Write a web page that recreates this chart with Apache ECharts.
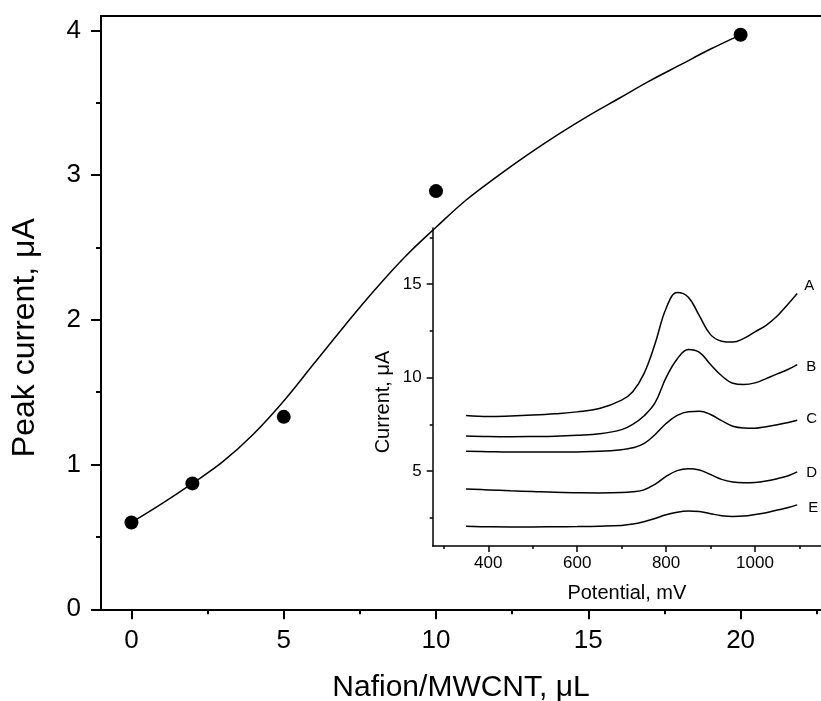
<!DOCTYPE html>
<html>
<head>
<meta charset="utf-8">
<script src="https://cdn.jsdelivr.net/npm/echarts@6/dist/echarts.min.js"></script>
<style>
html,body{margin:0;padding:0;background:#fff;}
#chart{width:821px;height:701px;}
</style>
</head>
<body>
<div id="chart"></div>
<script>
// Main panel: measured points
var pointX = [0, 2, 5, 10, 20];
var pointY = [0.60, 0.87, 1.33, 2.89, 3.97];
// Main panel: fitted curve
var fitX = [0, 1, 2, 3, 4, 5, 6, 7, 8, 9, 10, 11, 12, 13, 14, 15, 16, 17, 18, 19, 20];
var fitY = [0.60, 0.73, 0.87, 1.02, 1.21, 1.44, 1.70, 1.96, 2.21, 2.44, 2.64, 2.83, 2.99, 3.14, 3.28, 3.41, 3.53, 3.65, 3.76, 3.87, 3.97];
// Main axis ticks
var mainXMajor = [0, 5, 10, 15, 20];
var mainXMinor = [2.5, 7.5, 12.5, 17.5, 22.5];
var mainYMajor = [0, 1, 2, 3, 4];
var mainYMinor = [0.5, 1.5, 2.5, 3.5];

// Inset: voltammograms
var potential = [350, 400, 450, 500, 550, 600, 650, 700, 725, 750, 775, 800, 825, 850, 875, 900, 925, 950, 975, 1000, 1025, 1050, 1075, 1095];
var curveA = [7.98, 7.92, 7.95, 8.00, 8.07, 8.17, 8.35, 8.80, 9.25, 10.2, 11.8, 13.7, 14.55, 14.3, 13.3, 12.3, 11.95, 11.9, 12.1, 12.45, 12.8, 13.3, 13.95, 14.5];
var curveB = [6.88, 6.85, 6.84, 6.85, 6.87, 6.92, 7.00, 7.22, 7.50, 7.95, 8.65, 10.0, 11.0, 11.5, 11.35, 10.7, 10.1, 9.70, 9.63, 9.72, 9.95, 10.2, 10.45, 10.7];
var curveC = [6.07, 6.04, 6.02, 6.02, 6.02, 6.03, 6.06, 6.15, 6.25, 6.47, 6.95, 7.55, 7.98, 8.18, 8.20, 8.03, 7.70, 7.40, 7.31, 7.30, 7.38, 7.48, 7.60, 7.72];
var curveD = [4.05, 4.00, 3.95, 3.91, 3.87, 3.85, 3.84, 3.86, 3.90, 4.00, 4.30, 4.72, 5.03, 5.13, 5.06, 4.82, 4.56, 4.42, 4.38, 4.40, 4.48, 4.60, 4.76, 4.96];
var curveE = [2.05, 2.03, 2.02, 2.02, 2.03, 2.04, 2.06, 2.10, 2.17, 2.30, 2.47, 2.67, 2.81, 2.87, 2.85, 2.73, 2.62, 2.58, 2.60, 2.68, 2.78, 2.92, 3.06, 3.20];
var curveNames = ['A', 'B', 'C', 'D', 'E'];
// Inset axis ticks
var insetXMajor = [400, 600, 800, 1000];
var insetXMinor = [300, 500, 700, 900, 1100];
var insetYMajor = [5, 10, 15];
var insetYMinor = [2.5, 7.5, 12.5, 17.5];

function zip(xs, ys) { return xs.map(function (x, i) { return [x, ys[i]]; }); }

var FONT = '"Liberation Sans", Arial, sans-serif';
var BLACK = '#000';

function majorAxis(opts) {
  return {
    type: 'value',
    min: opts.min, max: opts.max,
    gridIndex: opts.grid,
    position: opts.position,
    axisLine: { show: true, onZero: false, lineStyle: { color: BLACK, width: opts.lw } },
    axisTick: { show: true, inside: false, length: opts.tickLen, customValues: opts.ticks, lineStyle: { color: BLACK, width: opts.lw } },
    axisLabel: { show: true, customValues: opts.ticks, fontSize: opts.fs, margin: opts.margin, color: BLACK, fontFamily: FONT,
      formatter: function (v) { return String(v); } },
    splitLine: { show: false },
    name: opts.name,
    nameLocation: 'middle',
    nameGap: opts.nameGap,
    nameRotate: opts.nameRotate,
    nameTextStyle: { fontSize: opts.nameFs, color: BLACK, fontFamily: FONT, padding: opts.namePad || 0 }
  };
}
function minorAxis(opts) {
  return {
    type: 'value',
    min: opts.min, max: opts.max,
    gridIndex: opts.grid,
    position: opts.position,
    axisLine: { show: false, onZero: false },
    axisTick: { show: true, inside: false, length: opts.tickLen, customValues: opts.ticks, lineStyle: { color: BLACK, width: opts.lw } },
    axisLabel: { show: false },
    splitLine: { show: false }
  };
}

var MX = [-1, 22.64], MY = [0, 4.1], IX = [275, 1148.5], IY = [1, 18];

var labelOffsets = [[7, -8], [9, 2], [9, -1], [9, 1], [11, 3]];
var insetCurves = [curveA, curveB, curveC, curveD, curveE];

var series = [
  {
    type: 'line', xAxisIndex: 0, yAxisIndex: 0,
    data: zip(fitX, fitY), smooth: 0.4, symbol: 'none',
    lineStyle: { color: BLACK, width: 1.5 }, z: 3
  },
  {
    type: 'scatter', xAxisIndex: 0, yAxisIndex: 0,
    data: zip(pointX, pointY), symbol: 'circle', symbolSize: 14,
    itemStyle: { color: BLACK, opacity: 1 }, z: 4
  }
];
insetCurves.forEach(function (c, i) {
  series.push({
    type: 'line', xAxisIndex: 3, yAxisIndex: 2,
    data: zip(potential, c), smooth: 0.4, symbol: 'none',
    lineStyle: { color: BLACK, width: 1.5 },
    endLabel: {
      show: true, formatter: curveNames[i], distance: 0,
      offset: labelOffsets[i], fontSize: 15, color: BLACK, fontFamily: FONT
    }
  });
});

var option = {
  animation: false,
  backgroundColor: '#fff',
  grid: [
    { left: 101, top: 16, right: 0, bottom: 91.7, containLabel: false, outerBoundsMode: 'none' },
    { left: 432.7, top: 228, right: 0, bottom: 155, containLabel: false, outerBoundsMode: 'none' }
  ],
  xAxis: [
    majorAxis({ min: MX[0], max: MX[1], grid: 0, position: 'bottom', lw: 2, tickLen: 10, ticks: mainXMajor, fs: 26, margin: 19,
      name: 'Nafion/MWCNT, μL', nameGap: 63, nameFs: 30 }),
    minorAxis({ min: MX[0], max: MX[1], grid: 0, position: 'bottom', lw: 2, tickLen: 5, ticks: mainXMinor }),
    { type: 'value', min: MX[0], max: MX[1], gridIndex: 0, position: 'top',
      axisLine: { show: true, onZero: false, lineStyle: { color: BLACK, width: 2 } },
      axisTick: { show: false }, axisLabel: { show: false }, splitLine: { show: false } },
    majorAxis({ min: IX[0], max: IX[1], grid: 1, position: 'bottom', lw: 1.5, tickLen: 6, ticks: insetXMajor, fs: 17, margin: 9,
      name: 'Potential, mV', nameGap: 37, nameFs: 20 }),
    minorAxis({ min: IX[0], max: IX[1], grid: 1, position: 'bottom', lw: 1.5, tickLen: 3, ticks: insetXMinor })
  ],
  yAxis: [
    majorAxis({ min: MY[0], max: MY[1], grid: 0, position: 'left', lw: 2, tickLen: 10, ticks: mainYMajor, fs: 26, margin: 20,
      name: 'Peak current, μA', nameGap: 60, nameFs: 32, nameRotate: 90, namePad: [0, 50, 0, 0] }),
    minorAxis({ min: MY[0], max: MY[1], grid: 0, position: 'left', lw: 2, tickLen: 5, ticks: mainYMinor }),
    majorAxis({ min: IY[0], max: IY[1], grid: 1, position: 'left', lw: 1.5, tickLen: 6, ticks: insetYMajor, fs: 17, margin: 11,
      name: 'Current, μA', nameGap: 39, nameFs: 20, nameRotate: 90, namePad: [0, 30, 0, 0] }),
    minorAxis({ min: IY[0], max: IY[1], grid: 1, position: 'left', lw: 1.5, tickLen: 3, ticks: insetYMinor })
  ],
  series: series
};

var chart = echarts.init(document.getElementById('chart'), null, { renderer: 'canvas' });
chart.setOption(option);
</script>
</body>
</html>
